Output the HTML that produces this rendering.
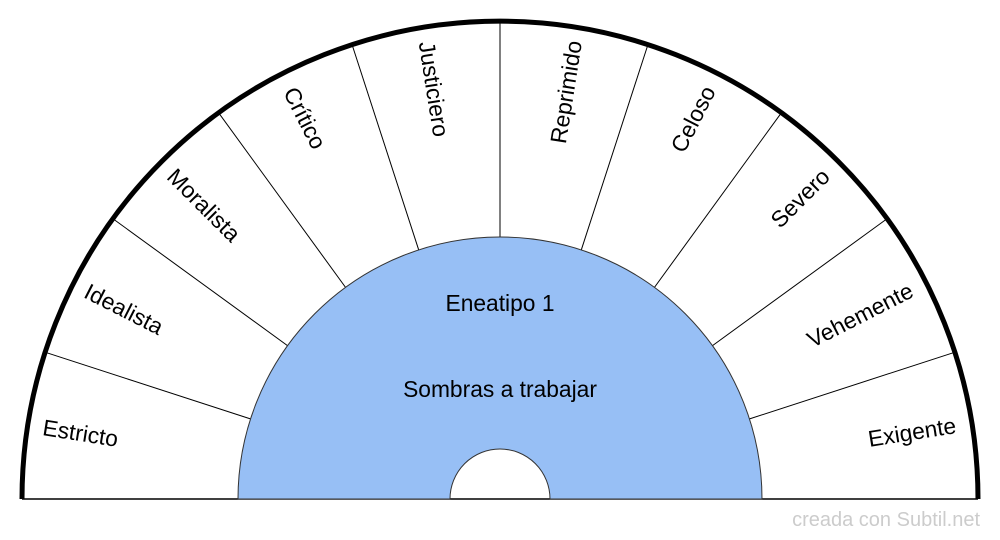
<!DOCTYPE html>
<html><head><meta charset="utf-8"><style>
html,body{margin:0;padding:0;background:#fff;}
svg{display:block;}
text{font-family:"Liberation Sans",sans-serif;font-size:22.8px;fill:#000;}
</style></head><body>
<svg width="1000" height="540" viewBox="0 0 1000 540">
<rect width="1000" height="540" fill="#fff"/>
<line x1="22" y1="499" x2="978" y2="499" stroke="#000" stroke-width="1.5"/>
<g stroke="#000" stroke-width="1">
<line x1="250.8" y1="419" x2="45.4" y2="352.3"/>
<line x1="288" y1="346" x2="113.3" y2="219"/>
<line x1="346" y1="288" x2="219" y2="113.3"/>
<line x1="419" y1="250.8" x2="352.3" y2="45.4"/>
<line x1="500" y1="238" x2="500" y2="22"/>
<line x1="749.2" y1="419" x2="954.6" y2="352.3"/>
<line x1="712" y1="346" x2="886.7" y2="219"/>
<line x1="654" y1="288" x2="781" y2="113.3"/>
<line x1="581" y1="250.8" x2="647.7" y2="45.4"/>
</g>
<path d="M238,499 A262,262 0 0 1 762,499 L550,499 A50,50 0 0 0 450,499 Z" fill="#97bff5" stroke="#333" stroke-width="1"/>
<path d="M22,499 A478,478 0 0 1 978,499" fill="none" stroke="#000" stroke-width="5"/>
<g text-anchor="middle" dominant-baseline="central">
<text transform="translate(80.5,433) rotate(9)">Estricto</text>
<text transform="translate(124,309) rotate(27)">Idealista</text>
<text transform="translate(204,205) rotate(45)">Moralista</text>
<text transform="translate(305,118) rotate(63)">Crítico</text>
<text transform="translate(434,89) rotate(81)">Justiciero</text>
<text transform="translate(566,92) rotate(-81)">Reprimido</text>
<text transform="translate(693,119) rotate(-63)">Celoso</text>
<text transform="translate(800,198) rotate(-45)">Severo</text>
<text transform="translate(860,315) rotate(-27)">Vehemente</text>
<text transform="translate(912,432) rotate(-9)">Exigente</text>
<text x="500" y="303">Eneatipo 1</text>
<text x="500" y="389">Sombras a trabajar</text>
</g>
<text x="980" y="526" text-anchor="end" style="font-size:20px;fill:#ccc">creada con Subtil.net</text>
</svg>
</body></html>
